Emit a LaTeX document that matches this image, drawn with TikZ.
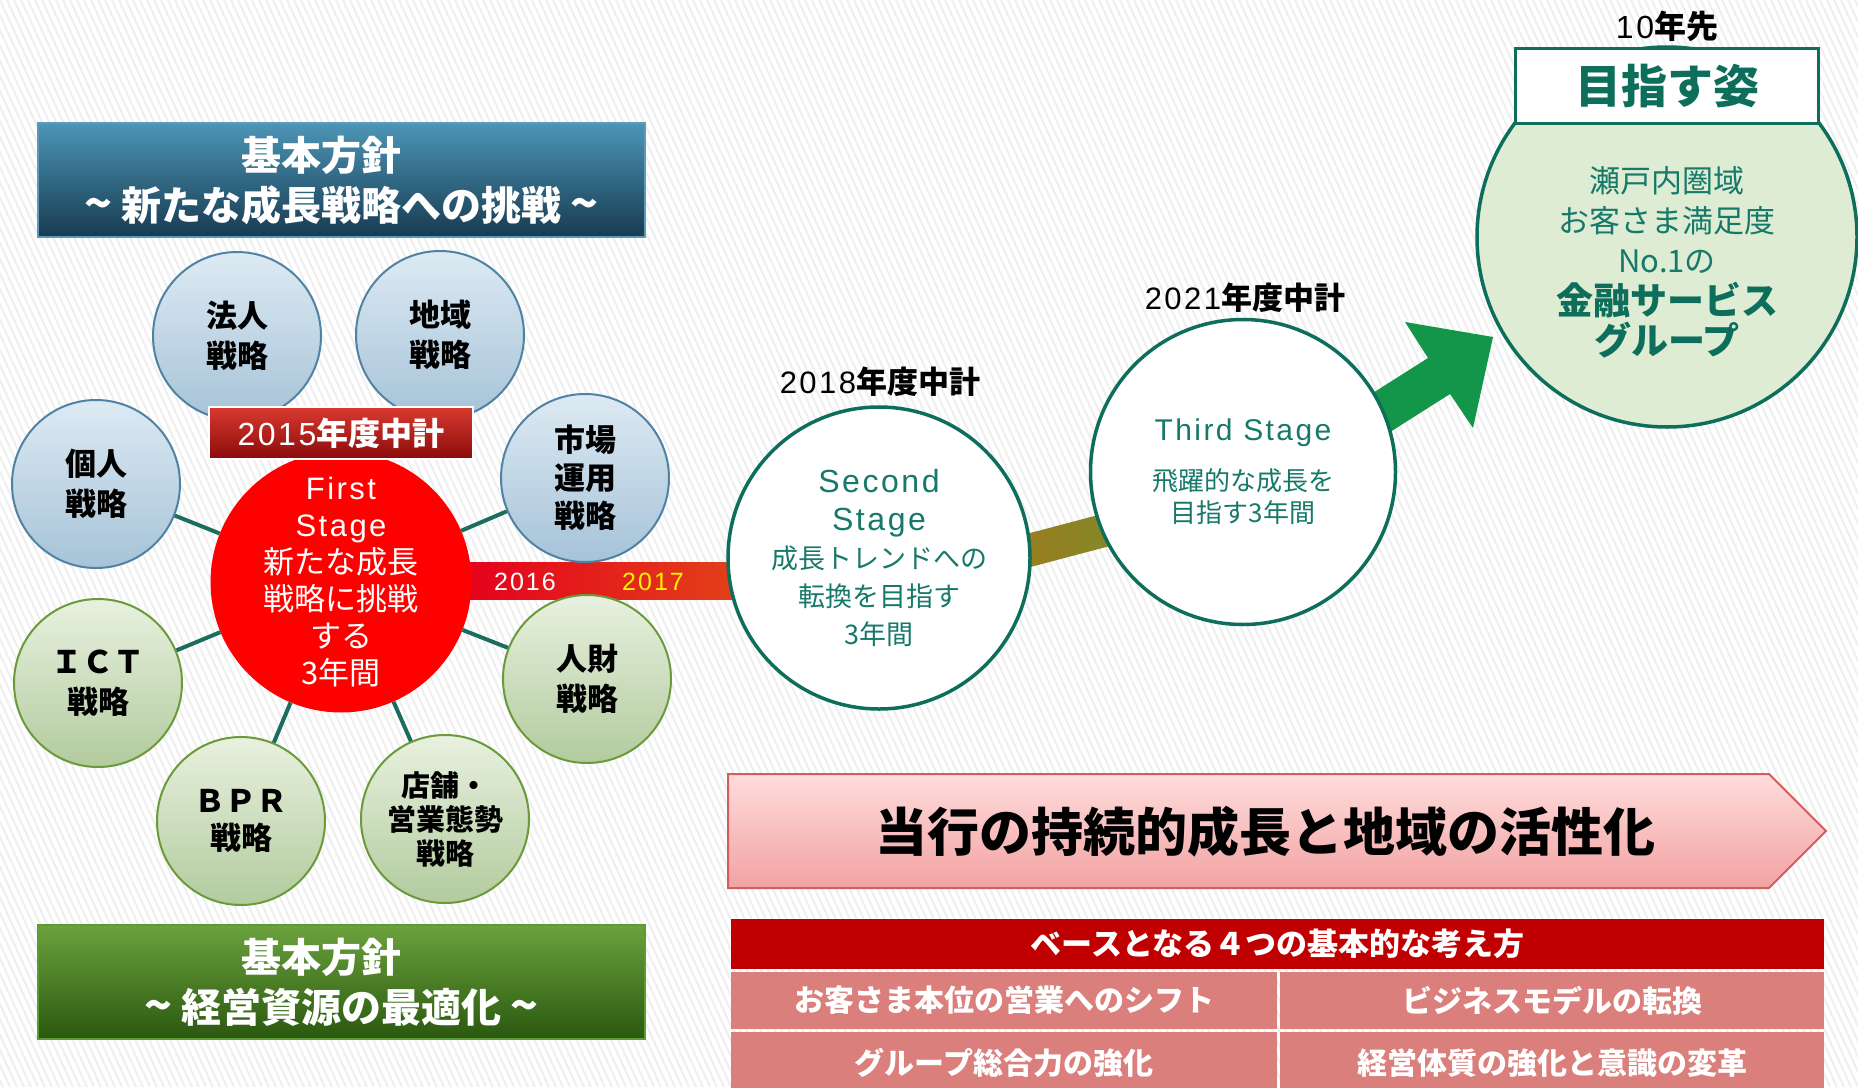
\documentclass[tikz,border=0pt]{standalone}
\usepackage{fontspec}
\setmainfont{Noto Sans CJK JP}
\newfontfamily\lat{Liberation Sans}
\newfontfamily\latsp[LetterSpace=8]{Liberation Sans}
\usetikzlibrary{shapes.geometric}
\definecolor{stripeC}{HTML}{EFEFEF}
\definecolor{blueBd}{HTML}{4F82A3}
\definecolor{blueTop}{HTML}{DDEAF3}
\definecolor{blueBot}{HTML}{A6C3D8}
\definecolor{greenBd}{HTML}{6A9A3A}
\definecolor{greenTop}{HTML}{E8F1DF}
\definecolor{greenBot}{HTML}{B2CB9E}
\definecolor{connC}{HTML}{1B6E5E}
\definecolor{tealBd}{HTML}{0E6E5C}
\definecolor{tealTx}{HTML}{16796A}
\definecolor{goalFill}{HTML}{DEECD4}
\definecolor{boxBlueTop}{HTML}{4C95B6}
\definecolor{boxBlueBot}{HTML}{173B51}
\definecolor{boxBlueBd}{HTML}{5A9BBB}
\definecolor{boxGreenTop}{HTML}{6BA23C}
\definecolor{boxGreenBot}{HTML}{2A5810}
\definecolor{boxGreenBd}{HTML}{5C9A35}
\definecolor{lblTop}{HTML}{D83A30}
\definecolor{lblBot}{HTML}{8A0B0B}
\definecolor{bandL}{HTML}{E5001C}
\definecolor{bandR}{HTML}{E2461A}
\definecolor{oliveL}{HTML}{A07A1E}
\definecolor{oliveR}{HTML}{7C8C2A}
\definecolor{arrowG}{HTML}{14964A}
\definecolor{pinkTop}{HTML}{FFDCDC}
\definecolor{pinkBot}{HTML}{F2A2A2}
\definecolor{pinkBd}{HTML}{D45E5C}
\definecolor{hdrRed}{HTML}{C00000}
\definecolor{cellC}{HTML}{DA7F7B}
\tikzset{
  sat/.style={circle, minimum size=168pt, line width=2pt, align=center, inner sep=0pt, text=black, font=\bfseries\fontsize{31}{40}\selectfont},
  satblue/.style={sat, draw=blueBd, top color=blueTop, bottom color=blueBot},
  satgreen/.style={sat, draw=greenBd, top color=greenTop, bottom color=greenBot},
  conn/.style={draw=connC, line width=4pt},
  stagec/.style={circle, draw=tealBd, line width=3.5pt, fill=white, align=center, inner sep=0pt, text=tealTx},
  yearlbl/.style={inner sep=0pt, text=black, font=\fontsize{31}{36}\selectfont},
  headbox/.style={rectangle, minimum width=607pt, minimum height=114pt, line width=2pt, align=center, text=white, inner sep=0pt, font=\bfseries\fontsize{40}{50}\selectfont},
  cell/.style={rectangle, fill=cellC, text=white, inner sep=0pt, font=\bfseries\fontsize{30}{36}\selectfont},
}
\newcommand{\tld}{{\fontsize{46}{50}\selectfont\char"7E}}
\begin{document}
\begin{tikzpicture}[x=1pt,y=-1pt]
\useasboundingbox (0,0) rectangle (1858,1087);
\fill[white] (0,0) rectangle (1858,1087);
\begin{scope}
\clip (0,0) rectangle (1858,1087);
\foreach \i in {-80,...,266} \draw[stripeC, line width=2pt] (\i*7,0) -- ++(500,1087);
\end{scope}

% timeline bands
\shade[left color=bandL, right color=bandR] (460,562) rectangle (760,599);
\shade[left color=oliveL, right color=oliveR] (996,542) -- (1136,505) -- (1144,537) -- (1004,574) -- cycle;
\fill[arrowG] (1335,417) -- (1428,358) -- (1405,322) -- (1493,337) -- (1473,428) -- (1450,394) -- (1357,453) -- cycle;

% satellite circles
\node[satblue] (houjin) at (237,336) {法人\\戦略};
\node[satblue] (chiiki) at (440,335) {地域\\戦略};
\node[satblue] (kojin) at (96,484) {個人\\戦略};
\node[satblue, font=\bfseries\fontsize{31}{38}\selectfont] (shijo) at (585,478) {市場\\運用\\戦略};
\node[satgreen] (ict) at (98,683) {ＩＣＴ\\戦略};
\node[satgreen, font=\bfseries\fontsize{31}{37}\selectfont] (bpr) at (241,821) {ＢＰＲ\\戦略};
\node[satgreen, font=\bfseries\fontsize{29}{34}\selectfont] (tenpo) at (445,819) {店舗・\\営業態勢\\戦略};
\node[satgreen] (jinzai) at (587,679) {人財\\戦略};

% first stage
\node[circle, fill=red, minimum size=258pt, inner sep=0pt, align=center, text=white, font=\fontsize{31}{37}\selectfont] (first) at (341,582)
  {{\latsp First}\\{\latsp Stage}\\新たな成長\\戦略に挑戦\\する\\3年間};
\draw[conn] (first) -- (kojin);
\draw[conn] (first) -- (shijo);
\draw[conn] (first) -- (ict);
\draw[conn] (first) -- (bpr);
\draw[conn] (first) -- (tenpo);
\draw[conn] (first) -- (jinzai);
\node[rectangle, top color=lblTop, bottom color=lblBot, draw=white, line width=1.5pt, minimum width=264pt, minimum height=52pt, inner sep=0pt, text=white, font=\fontsize{32}{36}\selectfont] (lbl15) at (341,433) {{\latsp 2015}\bfseries 年度中計};

\node[text=white, inner sep=0pt, font=\fontsize{25}{28}\selectfont] (y16) at (525,582) {\latsp 2016};
\node[text=yellow, inner sep=0pt, font=\fontsize{25}{28}\selectfont] (y17) at (653,582) {\latsp 2017};

% stages
\node[stagec, minimum size=302pt, font=\fontsize{27}{38}\selectfont] (second) at (879,558)
  {{\latsp\fontsize{32}{39}\selectfont Second}\\{\latsp\fontsize{32}{39}\selectfont Stage}\\成長トレンドへの\\転換を目指す\\3年間};
\node[yearlbl] (y18) at (880,382) {{\latsp 2018}\bfseries 年度中計};
\node[stagec, minimum size=305pt, font=\fontsize{26}{32}\selectfont] (third) at (1243,472)
  {{\latsp\fontsize{30}{36}\selectfont Third Stage}\\[18pt]飛躍的な成長を\\目指す3年間};
\node[yearlbl] (y21) at (1245,298) {{\latsp 2021}\bfseries 年度中計};

% goal
\node[circle, fill=goalFill, draw=tealBd, line width=3.5pt, minimum size=380pt, inner sep=0pt] (goal) at (1667,237) {};
\node[rectangle, fill=white, draw=tealBd, line width=3.5pt, minimum width=303pt, minimum height=75pt, inner sep=0pt, text=tealBd, font=\bfseries\fontsize{46}{50}\selectfont] (goallbl) at (1667,86) {目指す姿};
\node[yearlbl, font=\fontsize{32}{36}\selectfont] (tenyr) at (1667,26) {{\latsp 10}\bfseries 年先};
\node[align=center, inner sep=0pt, text=tealTx, font=\fontsize{31}{40}\selectfont] (goaltext) at (1667,262)
  {瀬戸内圏域\\お客さま満足度\\No.1の\\[2pt]{\bfseries\color{tealBd}\fontsize{37}{42}\selectfont 金融サービス}\\{\bfseries\color{tealBd}\fontsize{37}{42}\selectfont グループ}};

% policy boxes
\node[headbox, top color=boxBlueTop, bottom color=boxBlueBot, draw=boxBlueBd] (policy1) at (341.5,180) {基本方針\hspace*{40pt}\\\tld\ 新たな成長戦略への挑戦\ \tld};
\node[headbox, top color=boxGreenTop, bottom color=boxGreenBot, draw=boxGreenBd] (policy2) at (341.5,982) {基本方針\hspace*{40pt}\\\tld\ 経営資源の最適化\ \tld};

% banner
\shade[top color=pinkTop, bottom color=pinkBot, draw=pinkBd, line width=2pt] (728,774) -- (1769,774) -- (1826,831) -- (1769,888) -- (728,888) -- cycle;
\node[inner sep=0pt, text=black, font=\bfseries\fontsize{52}{56}\selectfont] (banner) at (1265,832) {当行の持続的成長と地域の活性化};

% table
\node[rectangle, fill=hdrRed, minimum width=1093pt, minimum height=50pt, inner sep=0pt, text=white, font=\bfseries\fontsize{31}{36}\selectfont] (hdr) at (1277.5,944) {ベースとなる４つの基本的な考え方};
\node[cell, minimum width=546pt, minimum height=57pt] (c11) at (1004,1000.5) {お客さま本位の営業へのシフト};
\node[cell, minimum width=544pt, minimum height=57pt] (c12) at (1552,1000.5) {ビジネスモデルの転換};
\node[cell, minimum width=546pt, minimum height=62pt] (c21) at (1004,1063) {グループ総合力の強化};
\node[cell, minimum width=544pt, minimum height=62pt] (c22) at (1552,1063) {経営体質の強化と意識の変革};
\end{tikzpicture}
\end{document}
